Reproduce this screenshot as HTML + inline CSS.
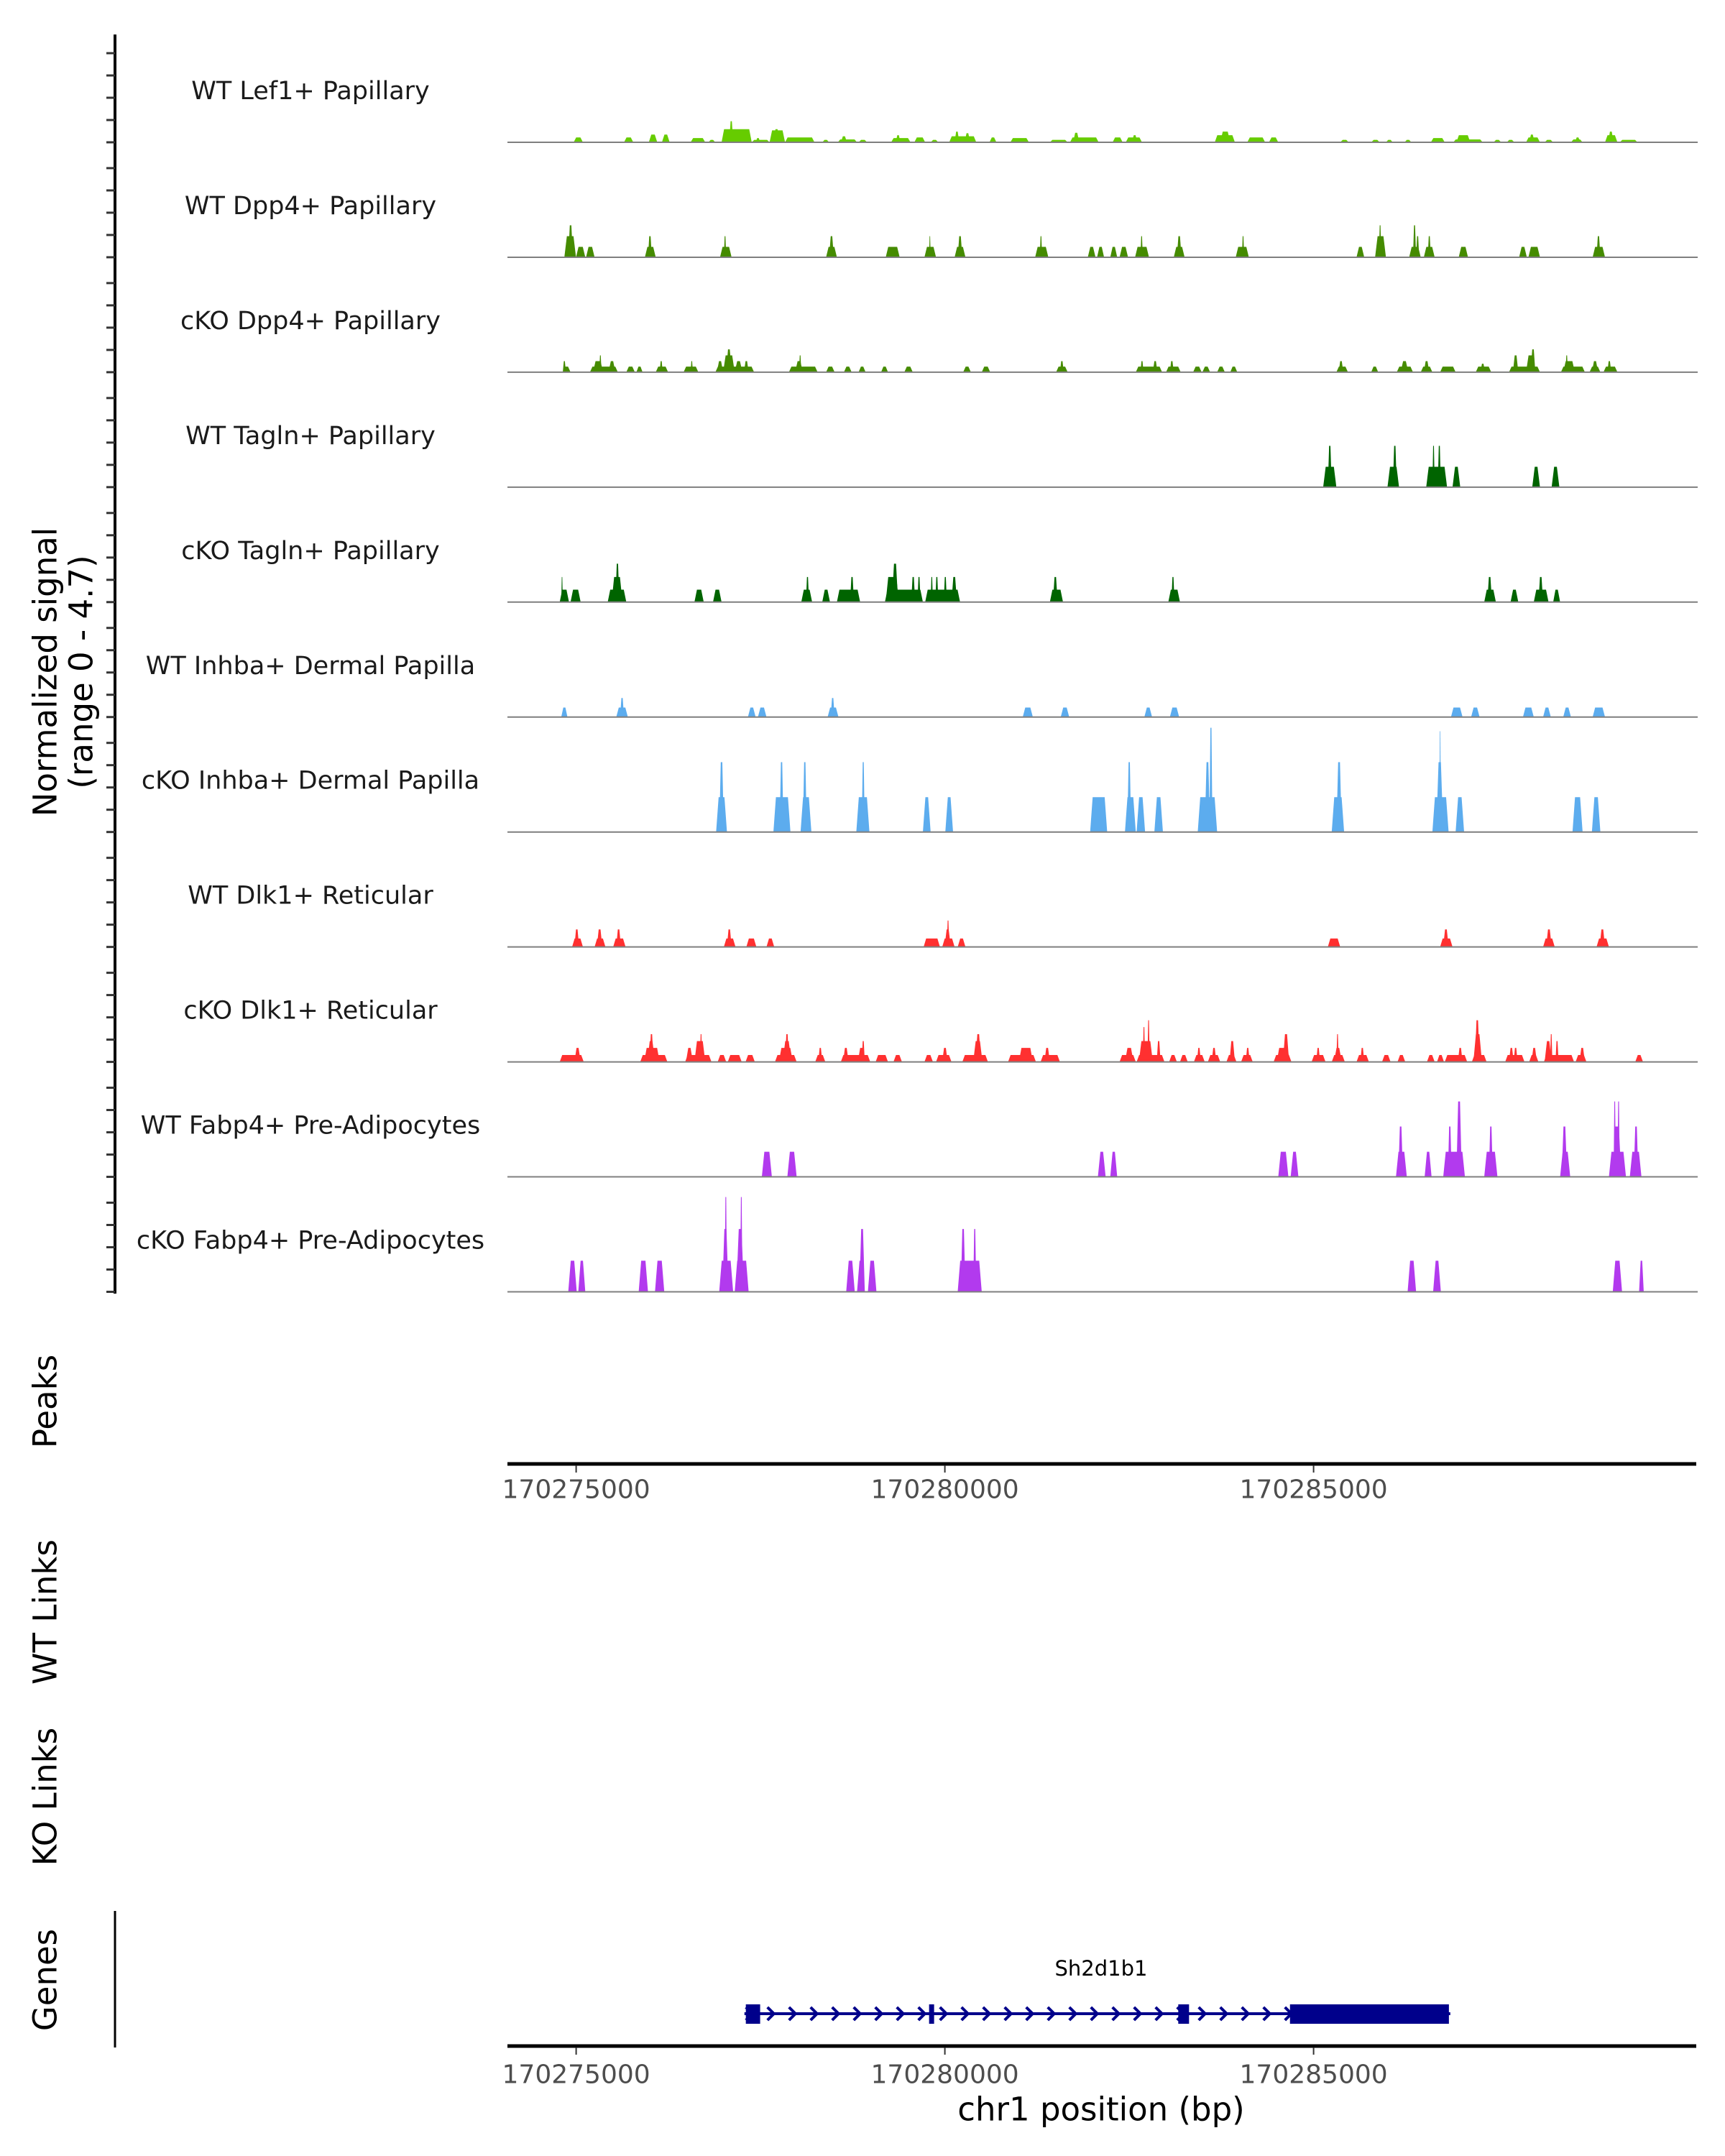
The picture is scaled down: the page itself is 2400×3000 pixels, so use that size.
<!DOCTYPE html>
<html><head><meta charset="utf-8">
<style>
html,body{margin:0;padding:0;background:#fff;}
svg{display:block;font-family:"DejaVu Sans","Liberation Sans",sans-serif;}
</style></head>
<body>
<svg id="chart" xmlns="http://www.w3.org/2000/svg" width="2400" height="3000" viewBox="0 0 2400 3000">
  <rect x="0" y="0" width="2400" height="3000" fill="#fff"/>
  <g id="tracks"></g>
  <g id="leftaxis"></g>
  <text transform="translate(63,935) rotate(-90)" text-anchor="middle" dominant-baseline="central" font-size="45" fill="#000">Normalized signal</text>
  <text transform="translate(113,935) rotate(-90)" text-anchor="middle" dominant-baseline="central" font-size="45" fill="#000">(range 0 - 4.7)</text>
  <text transform="translate(63,1950) rotate(-90)" text-anchor="middle" dominant-baseline="central" font-size="45" fill="#000">Peaks</text>
  <text transform="translate(63,2243) rotate(-90)" text-anchor="middle" dominant-baseline="central" font-size="45" fill="#000">WT Links</text>
  <text transform="translate(63,2500) rotate(-90)" text-anchor="middle" dominant-baseline="central" font-size="45" fill="#000">KO Links</text>
  <text transform="translate(63,2755) rotate(-90)" text-anchor="middle" dominant-baseline="central" font-size="45" fill="#000">Genes</text>
  <line x1="160" y1="2659" x2="160" y2="2849" stroke="#000" stroke-width="3"/>
  <g id="peaksaxis"></g>
  <g id="genesaxis"></g>
  <g id="gene"></g>
  <text x="1532" y="2739" text-anchor="middle" dominant-baseline="central" font-size="29" fill="#000">Sh2d1b1</text>
  <text x="1532" y="2935" text-anchor="middle" dominant-baseline="central" font-size="45" fill="#000">chr1 position (bp)</text>
</svg>
<script>
// ---- data (offsets in bp from chromStart; values = normalized signal) ----
const chromStart = 170274000;
const trackNames = ["WT Lef1+ Papillary","WT Dpp4+ Papillary","cKO Dpp4+ Papillary","WT Tagln+ Papillary","cKO Tagln+ Papillary","WT Inhba+ Dermal Papilla","cKO Inhba+ Dermal Papilla","WT Dlk1+ Reticular","cKO Dlk1+ Reticular","WT Fabp4+ Pre-Adipocytes","cKO Fabp4+ Pre-Adipocytes"];
const trackColors = ["#66CC00","#458B00","#458B00","#006400","#006400","#5CACEE","#5CACEE","#FF3030","#FF3030","#B23AEE","#B23AEE"];
const xTicks = [170275000,170280000,170285000];

const wtLef1 = [[966,1092,.22],[1649,1775,.22],[1985,2100,.35],[2163,2268,.35],[2552,2751,.19],[2793,2888,.11],[2972,3381,.59],[3077,3129,.95],[3255,3360,.35],[3381,3623,.11],[3434,3497,.19],[3623,3833,.54],[3675,3759,.59],[3833,4232,.22],[4337,4431,.11],[4547,4809,.13],[4589,4673,.27],[4830,4946,.11],[5271,5534,.19],[5334,5397,.32],[5586,5733,.22],[5807,5912,.11],[6059,6426,.27],[6132,6195,.48],[6269,6342,.41],[6605,6699,.22],[6888,7140,.19],[7424,7665,.11],[7697,8085,.22],[7739,7823,.43],[8274,8411,.22],[8453,8673,.22],[8537,8610,.32],[9660,9933,.32],[9734,9870,.48],[10101,10343,.22],[10395,10521,.22],[11361,11477,.11],[11781,11897,.11],[11981,12075,.11],[12233,12327,.11],[12590,12779,.19],[12894,13293,.13],[12936,13125,.32],[13440,13545,.11],[13619,13724,.11],[13881,14070,.22],[13923,13997,.35],[14133,14249,.11],[14490,14648,.13],[14543,14616,.22],[14952,15120,.32],[14994,15068,.48],[15152,15393,.11]];
const wtDpp4 = [[840,998,.95],[893,956,1.44],[998,1124,.47],[1134,1250,.47],[1932,2079,.47],[1974,2027,.95],[2951,3108,.47],[3003,3035,.95],[4389,4536,.47],[4431,4494,.95],[5198,5387,.47],[5723,5880,.47],[5786,5807,.95],[6132,6279,.47],[6174,6237,.95],[7224,7403,.47],[7287,7319,.95],[7938,8043,.47],[8064,8159,.47],[8243,8337,.47],[8369,8484,.47],[8579,8768,.47],[8652,8684,.95],[9104,9251,.47],[9146,9209,.95],[9944,10122,.47],[10028,10059,.95],[11582,11687,.47],[11834,11981,.95],[11886,11918,1.44],[12296,12453,.47],[12348,12390,1.44],[12390,12432,.95],[12495,12642,.47],[12548,12590,.95],[12968,13094,.47],[13787,13892,.47],[13913,14070,.47],[14784,14952,.47],[14837,14889,.95]];
const koDpp4 = [[819,924,.25],[819,861,.5],[1187,1565,.25],[1229,1365,.5],[1313,1344,.76],[1439,1533,.5],[1680,1796,.25],[1817,1901,.25],[2079,2247,.25],[2132,2174,.5],[2457,2657,.25],[2552,2583,.5],[2888,3413,.25],[2909,2993,.5],[2993,3150,.76],[3035,3108,1.03],[3150,3255,.5],[3276,3339,.5],[3885,4274,.25],[3969,4074,.5],[4022,4053,.76],[4389,4505,.25],[4631,4736,.25],[4830,4925,.25],[5135,5229,.25],[5450,5565,.25],[6248,6353,.25],[6500,6615,.25],[7508,7665,.25],[7560,7613,.5],[8589,8946,.25],[8652,8694,.5],[8820,8883,.5],[8999,9198,.25],[9051,9104,.5],[9366,9482,.25],[9492,9597,.25],[9692,9797,.25],[9870,9965,.25],[11309,11466,.25],[11340,11403,.5],[11781,11876,.25],[12128,12348,.25],[12180,12285,.5],[12453,12611,.25],[12495,12569,.5],[12716,12926,.25],[13199,13409,.25],[13262,13325,.38],[13650,14070,.25],[13703,13776,.76],[13881,14007,.76],[13944,14007,1.03],[14354,14679,.25],[14385,14543,.5],[14417,14448,.76],[14742,14889,.25],[14774,14858,.5],[14931,15120,.25],[14984,15036,.5]];
const wtTagln = [[11130,11309,.92],[11193,11246,1.86],[12002,12159,.92],[12075,12128,1.86],[12527,12810,.92],[12611,12642,1.86],[12684,12726,1.86],[12884,12989,.92],[13965,14070,.92],[14228,14333,.92]];
const koTagln = [[777,903,.56],[798,819,1.13],[924,1061,.56],[1428,1680,.56],[1481,1628,1.13],[1533,1586,1.73],[2604,2730,.56],[2856,2972,.56],[4053,4200,.56],[4116,4158,1.13],[4337,4442,.56],[4536,4851,.56],[4715,4767,1.13],[5187,5702,.56],[5198,5376,1.13],[5282,5366,1.73],[5544,5597,1.13],[5628,5670,1.13],[5733,6206,.56],[5807,5838,1.13],[5870,5912,1.13],[5985,6027,1.13],[6090,6164,1.13],[7424,7602,.56],[7466,7529,1.13],[9030,9188,.56],[9072,9114,1.13],[13314,13472,.56],[13356,13419,1.13],[13671,13776,.56],[13986,14186,.56],[14049,14112,1.13],[14249,14343,.56]];
const wtInhba = [[798,882,.43],[1544,1701,.43],[1596,1649,.86],[3329,3434,.43],[3465,3581,.43],[4410,4557,.43],[4452,4505,.86],[7056,7193,.43],[7571,7686,.43],[8705,8810,.43],[9051,9177,.43],[12863,13020,.43],[13136,13251,.43],[13839,13986,.43],[14112,14217,.43],[14385,14490,.43],[14784,14952,.43]];
const koInhba = [[2898,3045,1.57],[2940,3003,3.15],[3675,3906,1.57],[3759,3812,3.15],[4043,4190,1.57],[4074,4127,3.15],[4799,4977,1.57],[4872,4914,3.15],[5702,5807,1.57],[6006,6111,1.57],[7970,8201,1.57],[8442,8589,1.57],[8474,8526,3.15],[8600,8715,1.57],[8841,8957,1.57],[9429,9692,1.57],[9524,9597,3.15],[9587,9629,4.7],[11246,11414,1.57],[11309,11382,3.15],[12611,12831,1.57],[12663,12758,3.15],[12705,12726,4.54],[12926,13041,1.57],[14511,14648,1.57],[14774,14889,1.57]];
const wtDlk1 = [[945,1092,.38],[977,1040,.79],[1250,1397,.38],[1281,1355,.79],[1502,1670,.38],[1544,1607,.79],[3003,3161,.38],[3045,3108,.79],[3308,3444,.38],[3581,3686,.38],[5712,5933,.38],[5964,6132,.38],[5996,6080,.79],[6027,6059,1.19],[6174,6279,.38],[11193,11361,.38],[12716,12884,.38],[12758,12831,.79],[14112,14270,.38],[14154,14228,.79],[14837,15005,.38],[14879,14952,.79]];
const koDlk1 = [[777,1103,.31],[977,1061,.63],[1869,2237,.31],[1922,2132,.63],[1964,2069,.94],[1995,2048,1.25],[2478,2835,.31],[2489,2583,.63],[2604,2751,.94],[2678,2709,1.25],[2919,3035,.31],[3056,3245,.31],[3297,3423,.31],[3696,3990,.31],[3749,3938,.63],[3801,3917,.94],[3833,3885,1.25],[4242,4379,.31],[4284,4337,.63],[4589,4988,.31],[4620,4694,.63],[4820,4914,.63],[4872,4914,.94],[5061,5229,.31],[5303,5418,.31],[5723,5838,.31],[5880,6090,.31],[5964,6038,.63],[6237,6584,.31],[6384,6510,.94],[6416,6489,1.25],[6857,7235,.31],[7004,7193,.63],[7298,7560,.31],[7350,7424,.63],[8369,8589,.31],[8442,8558,.63],[8600,8978,.31],[8631,8820,.94],[8684,8715,1.57],[8747,8778,1.88],[8873,8925,.94],[9041,9146,.31],[9188,9293,.31],[9377,9524,.31],[9419,9471,.63],[9566,9734,.31],[9618,9681,.63],[9818,9954,.31],[9860,9933,.94],[10017,10175,.31],[10080,10133,.63],[10458,10700,.31],[10500,10679,.63],[10584,10668,1.25],[10973,11162,.31],[11036,11088,.63],[11246,11424,.31],[11277,11382,.63],[11309,11340,1.25],[11582,11750,.31],[11634,11687,.63],[11928,12044,.31],[12138,12243,.31],[12537,12642,.31],[12674,12768,.31],[12779,13083,.31],[12957,13020,.63],[13146,13346,.31],[13167,13283,1.25],[13188,13251,1.88],[13598,13860,.31],[13650,13713,.63],[13713,13766,.63],[13923,14049,.31],[13955,14028,.63],[14123,14532,.31],[14133,14228,.94],[14207,14238,1.25],[14280,14322,.94],[14553,14700,.31],[14606,14679,.63],[15362,15467,.31]];
const wtFabp4 = [[3518,3654,1.13],[3864,3990,1.13],[8075,8180,1.13],[8243,8337,1.13],[10521,10658,1.13],[10689,10794,1.13],[12117,12264,1.13],[12149,12212,2.27],[12506,12600,1.13],[12758,13052,1.13],[12821,12873,2.27],[12936,13010,3.4],[13314,13493,1.13],[13377,13430,2.27],[14343,14480,1.13],[14364,14438,2.27],[15005,15236,1.13],[15057,15173,2.27],[15068,15099,3.4],[15120,15152,3.4],[15288,15446,1.13],[15341,15404,2.27]];
const koFabp4 = [[893,1008,1.4],[1029,1124,1.4],[1848,1974,1.4],[2069,2195,1.4],[2940,3129,1.4],[2982,3066,2.83],[3014,3045,4.27],[3150,3339,1.4],[3171,3276,2.83],[3224,3255,4.27],[4662,4778,1.4],[4809,4914,1.4],[4841,4914,2.83],[4956,5072,1.4],[6174,6500,1.4],[6216,6279,2.83],[6384,6426,2.83],[12275,12390,1.4],[12621,12726,1.4],[15057,15183,1.4],[15414,15477,1.4]];
const trackData = [wtLef1,wtDpp4,koDpp4,wtTagln,koTagln,wtInhba,koInhba,wtDlk1,koDlk1,wtFabp4,koFabp4];

// gene model (offsets from chromStart)
const geneStart = 3282, geneEnd = 12854;
const exonStarts = [3301,5786,9165,10680];
const exonEnds   = [3495,5854,9311,12835];

// ---- scales ----
const NS = "http://www.w3.org/2000/svg";
const X0 = 699, XK = 0.1026;
function xScale(off){ return X0 + off*XK; }
function xBp(bp){ return xScale(bp - chromStart); }
const YK = 30.87; // px per signal unit
function baseline(i){ return 198 + 159.95*i; }
function yScale(v,i){ return baseline(i) - v*YK; }
function mk(tag, attrs, parent){ const e=document.createElementNS(NS,tag); for(const k in attrs) e.setAttribute(k,attrs[k]); parent.appendChild(e); return e; }

const tracksG = document.getElementById('tracks');
trackData.forEach((peaks,i)=>{
  const g = mk('g',{},tracksG);
  
  
  const lab = mk('text',{x:432,y:baseline(i)-71,'text-anchor':'middle','dominant-baseline':'central','font-size':35,fill:'#1a1a1a'},g);
  lab.textContent = trackNames[i];
  
  
  peaks.forEach(p=>{
    const s=xScale(p[0]), e=xScale(p[1]), yb=baseline(i), yt=yScale(p[2],i);
    const d=Math.min(3.5,(e-s)/3);
    const poly = mk('polygon',{points:`${s},${yb} ${s+d},${yt} ${e-d},${yt} ${e},${yb}`,fill:trackColors[i]},g);
    
    
  });
  const bl = mk('line',{x1:706,y1:baseline(i),x2:2362,y2:baseline(i),stroke:'#7f7f7f','stroke-width':2},g);
  
  
});

// left axis
const la = document.getElementById('leftaxis');
mk('line',{x1:160,y1:48,x2:160,y2:1800,stroke:'#000','stroke-width':4},la);
for(let i=0;i<trackData.length;i++){
  for(let k=0;k<5;k++){
    const y=baseline(i)-31*k;
    const t=mk('line',{x1:148,y1:y,x2:160,y2:y,stroke:'#333','stroke-width':3},la);
    
    
  }
}

function drawAxis(gid, y, labY){
  const g=document.getElementById(gid);
  mk('line',{x1:706,y1:y,x2:2360,y2:y,stroke:'#000','stroke-width':5},g);
  xTicks.forEach(t=>{
    const x=xBp(t);
    const tk=mk('line',{x1:x,y1:y+2,x2:x,y2:y+12,stroke:'#333','stroke-width':2},g);
    
    
    const tl=mk('text',{x:x,y:labY,'text-anchor':'middle','dominant-baseline':'central','font-size':36,fill:'#4d4d4d'},g);
    tl.textContent=String(t);
    
    
  });
}
drawAxis('peaksaxis',2037,2073);
drawAxis('genesaxis',2847,2887);

// gene
const gg=document.getElementById('gene');
const gy=2802;
mk('line',{x1:xScale(geneStart),y1:gy,x2:xScale(geneEnd),y2:gy,stroke:'#00008B','stroke-width':4},gg);
for(let x=xScale(geneStart)+2; x<xScale(geneEnd)-30; x+=30){
  const c=mk('polyline',{points:`${x},${gy-9} ${x+9},${gy} ${x},${gy+9}`,fill:'none',stroke:'#00008B','stroke-width':4},gg);
  
  
}
exonStarts.forEach((s,i)=>{
  const x1=xScale(s), x2=xScale(exonEnds[i]);
  const r=mk('rect',{x:x1,y:gy-13,width:x2-x1,height:27,fill:'#00008B'},gg);
  
  
});
</script>
</body></html>
